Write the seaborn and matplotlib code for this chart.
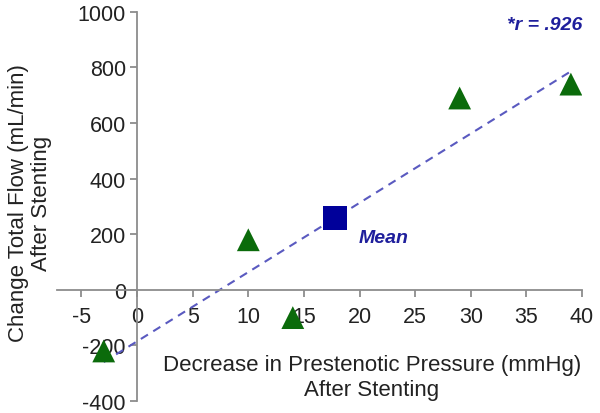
import numpy as np
import pandas as pd
import seaborn as sns
import matplotlib.pyplot as plt

# values
pressure_drop = [-3, 10, 14, 29, 39]        # mmHg
flow_change = [-220, 180, -100, 690, 740]   # mL/min
x_ticks = [-5, 0, 5, 10, 15, 20, 25, 30, 35, 40]
y_ticks = [-400, -200, 0, 200, 400, 600, 800, 1000]
r_label = '*r = .926'

df = pd.DataFrame({'x': pressure_drop, 'y': flow_change})
mean_df = pd.DataFrame({'x': [df['x'].mean()], 'y': [df['y'].mean()]})

sns.set_style('white')
plt.rcParams['font.family'] = ['Liberation Sans', 'DejaVu Sans']
plt.rcParams['axes.unicode_minus'] = False

fig = plt.figure(figsize=(6, 4.14), dpi=100)
ax = fig.add_axes([0.095, 0.029, 0.875, 0.94])

# regression line (dashed)
sns.regplot(data=df, x='x', y='y', ci=None, scatter=False, ax=ax,
            line_kws=dict(color='#5a5ac0', linestyle=(0, (4, 3)), linewidth=1.5))

sns.scatterplot(data=df, x='x', y='y', marker='^', s=270, color='#0b6b0b',
                edgecolor='none', ax=ax, zorder=3)
sns.scatterplot(data=mean_df, x='x', y='y', marker='s', s=300, color='#00009a',
                edgecolor='none', ax=ax, zorder=3)

ax.text(mean_df['x'][0] + 2.1, mean_df['y'][0] - 70, 'Mean', color='#1f1f9c',
        fontsize=14, fontweight='bold', fontstyle='italic', ha='left', va='center')
ax.text(40, 955, r_label, color='#1f1f9c', fontsize=14, fontweight='bold',
        fontstyle='italic', ha='right', va='center')

ax.set_xlim(-7.2, 40)
ax.set_ylim(-400, 1000)
ax.set_xticks(x_ticks)
ax.set_yticks(y_ticks)

# axes cross at the origin
for side in ['top', 'right']:
    ax.spines[side].set_visible(False)
ax.spines['left'].set_position(('data', 0))
ax.spines['bottom'].set_position(('data', 0))
for side in ['left', 'bottom']:
    ax.spines[side].set_color('#8c8c8c')
    ax.spines[side].set_linewidth(1.3)
ax.tick_params(axis='both', direction='out', length=5, width=1.3, color='#8c8c8c',
               bottom=True, left=True, labelsize=15.5, labelcolor='#222222', pad=7)
ax.tick_params(axis='y', pad=3)

ax.set_xlabel('Decrease in Prestenotic Pressure (mmHg)\nAfter Stenting',
              fontsize=16, color='#222222', linespacing=1.25)
ax.xaxis.set_label_coords(0.6, 0.12)
ax.set_ylabel('Change Total Flow (mL/min)\nAfter Stenting',
              fontsize=16, color='#222222', linespacing=1.1)
ax.yaxis.set_label_coords(-0.01, 0.51)

fig.savefig('out.png', dpi=100)
